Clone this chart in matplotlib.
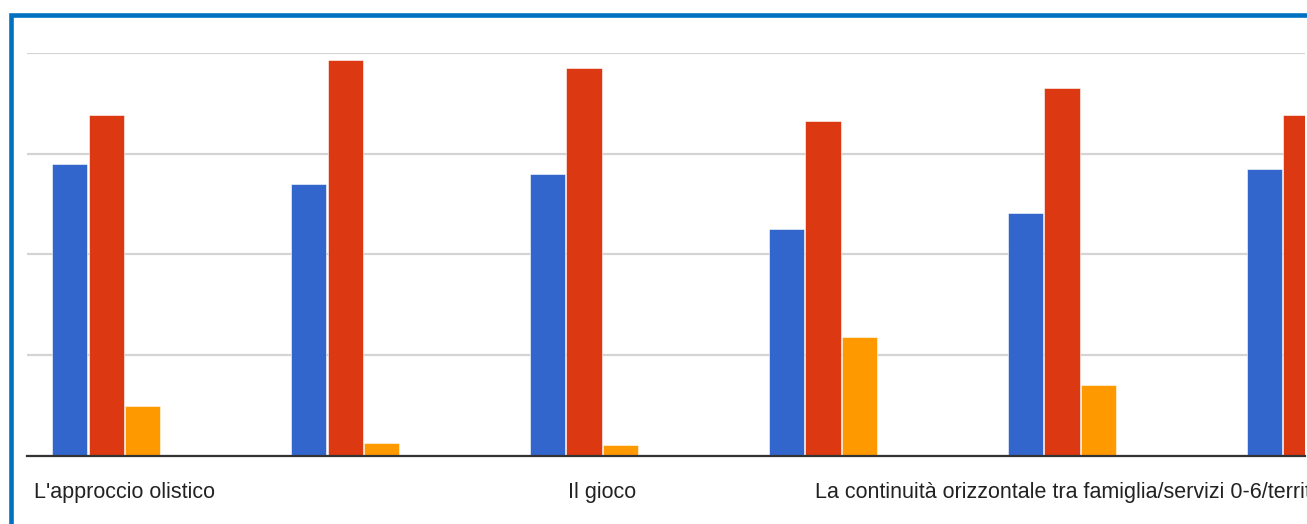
import matplotlib
matplotlib.use('Agg')
from matplotlib import pyplot as plt
from matplotlib.patches import Rectangle
import numpy as np

# Dati (scala arbitraria, griglia ogni 10)
categorie = ["L'approccio olistico", "", "Il gioco", "",
             "La continuità orizzontale tra famiglia/servizi 0-6/territorio", ""]
serie_blu = [29.0, 27.0, 28.0, 22.5, 24.1, 28.5]
serie_rossa = [33.8, 39.3, 38.5, 33.3, 36.5, 33.8]
serie_arancio = [5.0, 1.3, 1.1, 11.8, 7.0, 4.0]
serie_verde = [0.1, 0.1, 0.1, 0.1, 0.1, 0.1]

colori = ['#3366cc', '#dc3912', '#ff9900', '#109618']

W, H = 1307, 524
fig = plt.figure(figsize=(W / 100, H / 100), dpi=100)

# assi: da x=27 a 1305 px, da y=53 a 456 px
ax = fig.add_axes([27 / W, (H - 456) / H, (1305 - 27) / W, (456 - 53) / H])

x = np.arange(len(categorie))
larg = 0.1527
for k, (vals, col) in enumerate(zip([serie_blu, serie_rossa, serie_arancio, serie_verde], colori)):
    alpha = 0.25 if k == 3 else 1.0
    ax.bar(x + (k - 1.5) * larg, vals, width=larg * 0.97, color=col, alpha=alpha,
           edgecolor='white', linewidth=0.4, zorder=3)

ax.set_xticks(x)
ax.set_xticklabels(categorie, fontsize=15.5, color='#222222', family=['Liberation Sans', 'DejaVu Sans'])
ax.set_yticks([0, 10, 20, 30, 40])
# i limiti vanno messi dopo set_xticks (che altrimenti li allarga)
ax.set_ylim(0, 40)
ax.set_xlim(-0.408, 4.94)
ax.yaxis.grid(True, color='#d4d4d4', linewidth=1.6, zorder=0)
ax.tick_params(axis='y', length=0, labelleft=False)
ax.tick_params(axis='x', length=0, pad=19)

for s in ['top', 'right', 'left']:
    ax.spines[s].set_visible(False)
ax.spines['bottom'].set_color('#333333')
ax.spines['bottom'].set_linewidth(1.6)
ax.spines['bottom'].set_zorder(4)

# cornice blu (solo lati sinistro e superiore visibili)
cornice = Rectangle((10.5 / W, -0.2), 1.5, 1.2 - 15 / H, transform=fig.transFigure,
                    fill=False, edgecolor='#0070c0', linewidth=3.3, zorder=10)
fig.patches.append(cornice)

fig.savefig('out.png', dpi=100)
